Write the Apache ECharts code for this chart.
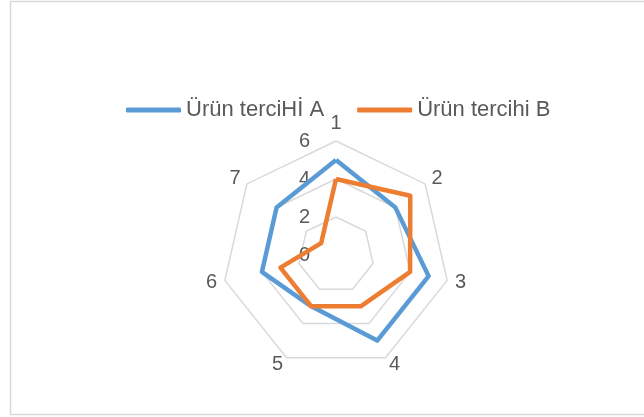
<!DOCTYPE html>
<html>
<head>
  <meta charset="utf-8">
  <title>ECharts</title>
  <script src="https://cdn.jsdelivr.net/npm/echarts@6/dist/echarts.min.js"></script>
  <style>
    html, body { margin: 0; padding: 0; background: #fff; }
  </style>
</head>
<body>
<div id="main" style="width: 644px;height:417px;"></div>
<script type="text/javascript">
  // veriler
  var axes = ['1', '2', '3', '4', '5', '6', '7'];
  var seriesNames = ['Ürün terciHİ A', 'Ürün tercihi B'];
  var valuesA = [5, 4, 5, 5, 3, 4, 4];
  var valuesB = [4, 5, 4, 3, 3, 3, 1];
  var axisMax = 6;

  var chartDom = document.getElementById('main');
  var myChart = echarts.init(chartDom);
  var font = 'Liberation Sans';

  // radar saat yönünün tersine çizer: ilk eksen sabit, gerisi ters sırada
  var order = [0].concat(axes.slice(1).map(function (a, i) { return axes.length - 1 - i; }));
  function reorder(arr) { return order.map(function (k) { return arr[k]; }); }

  var indicators = reorder(axes).map(function (a, i) {
    var ind = {name: a, min: 0, max: axisMax};
    if (i === 0) ind.axisLabel = {show: true};
    return ind;
  });

  var option = {
    backgroundColor: '#fff',
    graphic: [{
      type: 'rect',
      shape: {x: 10.5, y: 1.5, width: 640, height: 413},
      style: {fill: 'none', stroke: '#d9d9d9', lineWidth: 1.5},
      silent: true
    }],
    legend: {
      left: 121,
      top: 94,
      itemWidth: 55,
      itemHeight: 5,
      itemGap: 33,
      icon: 'roundRect',
      textStyle: {color: '#595959', fontSize: 22, fontFamily: font},
      data: seriesNames
    },
    radar: {
      center: [336, 255],
      radius: 114,
      startAngle: 90,
      splitNumber: 3,
      shape: 'polygon',
      nameGap: 8,
      axisName: {color: '#595959', fontSize: 20, fontFamily: font},
      axisLine: {show: false},
      axisTick: {show: false},
      axisLabel: {show: false, color: '#595959', fontSize: 20, fontFamily: font, margin: 26},
      splitLine: {lineStyle: {color: '#d9d9d9', width: 1.5}},
      splitArea: {show: false},
      indicator: indicators
    },
    series: [{
      type: 'radar',
      symbol: 'none',
      data: [
        {name: seriesNames[0], value: reorder(valuesA),
          lineStyle: {color: '#5b9bd5', width: 4.5}, itemStyle: {color: '#5b9bd5'}},
        {name: seriesNames[1], value: reorder(valuesB),
          lineStyle: {color: '#ed7d31', width: 4.5}, itemStyle: {color: '#ed7d31'}}
      ]
    }]
  };

  myChart.setOption(option);
</script>
</body>
</html>
